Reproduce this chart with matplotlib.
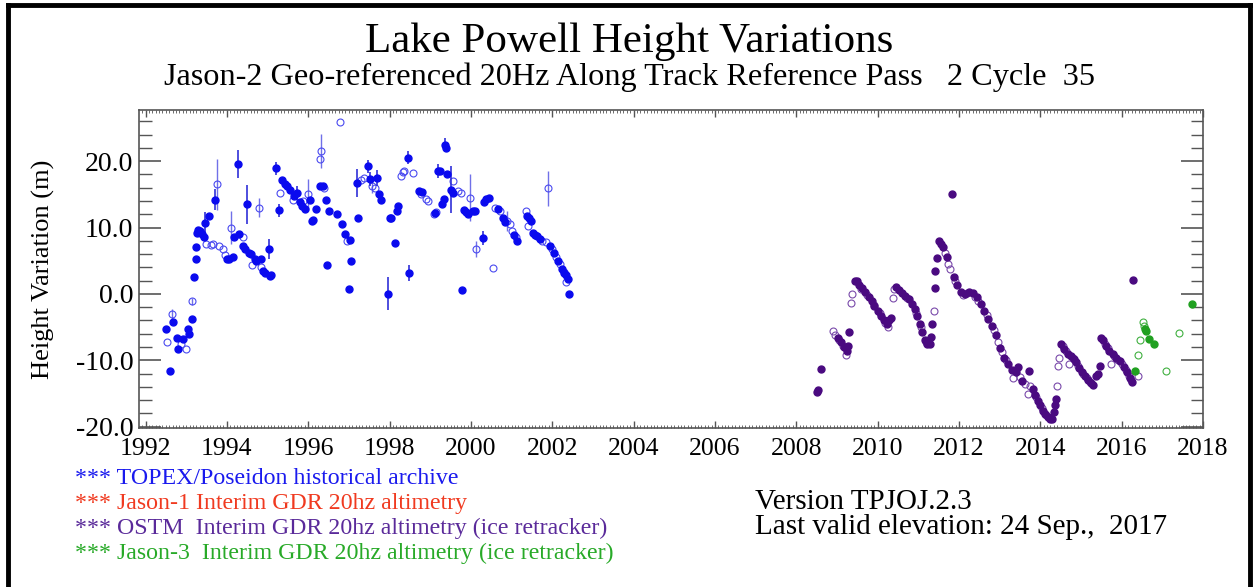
import numpy as np
import matplotlib.pyplot as plt
from matplotlib.ticker import MultipleLocator, FormatStrFormatter
from matplotlib.lines import Line2D

plt.rcParams['font.family'] = ['Liberation Serif', 'DejaVu Serif']

# TOPEX/Poseidon, filled points (year, height, error)
tp_year = [1992.51, 1992.60, 1992.68, 1992.78, 1992.81, 1992.93, 1993.05, 1993.08, 1993.14, 1993.19,
           1993.23, 1993.24, 1993.26, 1993.30, 1993.35, 1993.40, 1993.44, 1993.47, 1993.55, 1993.70,
           1994.00, 1994.05, 1994.16, 1994.18, 1994.27, 1994.31, 1994.40, 1994.45, 1994.50, 1994.55,
           1994.60, 1994.68, 1994.72, 1994.85, 1994.90, 1994.95, 1995.03, 1995.05, 1995.08, 1995.21,
           1995.27, 1995.36, 1995.42, 1995.47, 1995.56, 1995.66, 1995.73, 1995.80, 1995.85, 1995.92,
           1996.05, 1996.10, 1996.13, 1996.20, 1996.30, 1996.36, 1996.43, 1996.46, 1996.52, 1996.72,
           1996.84, 1996.90, 1997.00, 1997.02, 1997.06, 1997.19, 1997.23, 1997.47, 1997.52, 1997.68,
           1997.75, 1997.80, 1997.96, 1998.00, 1998.03, 1998.13, 1998.18, 1998.22, 1998.46, 1998.48,
           1998.72, 1998.80, 1999.12, 1999.20, 1999.24, 1999.28, 1999.33, 1999.36, 1999.40, 1999.42,
           1999.50, 1999.56, 1999.78, 1999.84, 1999.88, 1999.92, 2000.05, 2000.10, 2000.30, 2000.33,
           2000.38, 2000.45, 2000.66, 2000.80, 2000.85, 2001.05, 2001.14, 2001.38, 2001.42, 2001.47,
           2001.53, 2001.58, 2001.63, 2001.70, 2001.95, 2002.05, 2002.15, 2002.25, 2002.30, 2002.35,
           2002.38, 2002.41]
tp_h = [-5.3, -11.6, -4.3, -6.6, -8.3, -6.8, -5.3, -6.1, -3.8, 2.6,
        5.2, 7.1, 9.2, 9.6, 9.4, 9.0, 8.5, 10.7, 11.8, 14.2,
        5.3, 5.2, 5.5, 8.5, 19.5, 9.0, 7.2, 6.8, 13.5, 6.2,
        6.0, 5.2, 5.0, 5.2, 3.5, 3.2, 6.7, 2.7, 2.8, 18.9,
        12.6, 17.2, 16.5, 16.3, 15.7, 14.8, 15.2, 13.8, 13.2, 12.8,
        14.2, 11.0, 11.2, 12.8, 16.2, 16.2, 14.2, 4.4, 12.5, 12.0,
        10.5, 9.0, 0.7, 8.1, 4.9, 16.7, 11.5, 19.2, 17.3, 17.5,
        15.0, 14.2, 0.0, 11.5, 11.5, 7.6, 12.5, 13.2, 20.5, 3.1,
        15.5, 15.3, 12.2, 18.5, 18.5, 13.5, 14.3, 22.5, 22.0, 18.0,
        15.7, 15.2, 0.6, 12.7, 12.3, 12.0, 12.5, 12.5, 8.4, 13.8,
        14.3, 14.5, 12.8, 11.5, 10.8, 8.8, 8.0, 11.7, 11.4, 11.0,
        9.2, 8.9, 8.7, 8.3, 7.2, 6.2, 5.0, 3.8, 3.2, 2.8,
        2.2, 0.05]
tp_err = [0, 0, 0, 0, 0, 0, 0, 0, 0, 0,
          0, 0, 0, 0, 0, 0, 0, 1.7, 0, 1.6,
          0, 0, 0, 0, 2.1, 0, 0, 0, 2.9, 0,
          0, 0, 0, 0, 0, 0, 1.5, 0, 0, 1.0,
          1.0, 0, 0, 0, 0, 0, 1.0, 0, 0, 0,
          0, 0, 0, 0, 0, 0, 0, 0, 0, 0,
          0, 0, 0, 0, 0, 2.1, 0, 1.0, 1.0, 1.2,
          0, 0, 2.5, 0, 0, 0, 0, 0, 1.0, 1.2,
          0, 0, 0, 1.0, 0, 0, 0, 1.0, 0, 0,
          3.5, 0, 0, 0, 0, 0, 0, 0, 1.0, 0,
          0, 0, 0, 0, 0, 0, 0, 0, 0, 0,
          0, 0, 0, 0, 0, 0, 0, 0, 0, 0,
          0, 0]

# TOPEX/Poseidon, open points
tpo_year = [1992.53, 1992.65, 1992.88, 1993.00, 1993.15, 1993.48, 1993.60, 1993.66, 1993.77, 1993.80,
            1993.90, 1993.96, 1994.10, 1994.40, 1994.63, 1994.78, 1994.83, 1995.31, 1995.62, 1995.86,
            1996.00, 1996.28, 1996.31, 1996.38, 1996.79, 1996.96, 1997.30, 1997.36, 1997.58, 1997.64,
            1998.27, 1998.32, 1998.35, 1998.57, 1998.78, 1998.90, 1998.95, 1999.10, 1999.14, 1999.55,
            1999.68, 1999.75, 1999.98, 2000.12, 2000.54, 2000.60, 2000.72, 2000.88, 2000.95, 2001.00,
            2001.10, 2001.35, 2001.40, 2001.75, 2001.85, 2001.90, 2002.00, 2002.10, 2002.20, 2002.28,
            2002.33]
tpo_h = [-7.2, -3.0, -7.5, -8.3, -1.1, 7.5, 7.3, 7.5, 16.5, 7.2,
         6.7, 5.8, 10.0, 8.5, 4.4, 13.0, 4.1, 15.2, 14.2, 14.0,
         15.0, 20.3, 21.5, 16.0, 25.9, 8.0, 17.2, 17.4, 16.2, 16.0,
         17.7, 18.3, 18.5, 18.2, 15.0, 14.3, 14.0, 12.0, 12.3, 17.0,
         15.5, 15.2, 14.5, 6.7, 3.9, 13.0, 12.5, 11.0, 10.5, 9.5,
         8.6, 12.5, 10.3, 8.0, 7.8, 15.9, 6.8, 5.6, 4.5, 3.3,
         1.8]
tpo_err = [0, 0.8, 0, 0, 0.5, 0, 0, 0, 3.8, 0,
           0, 0, 2.5, 0, 0, 1.4, 0, 0, 0, 0,
           2.3, 0, 2.6, 0, 0, 0, 0, 0, 1.0, 0,
           0, 0, 0, 0, 0, 0, 0, 0, 0, 0,
           0, 0, 3.5, 1.2, 0, 0, 0, 1.5, 0, 0,
           0, 0, 0, 0, 0, 2.6, 0, 0, 0, 0,
           0]

# OSTM, filled points
os_year = [2008.50, 2008.53, 2008.61, 2009.02, 2009.10, 2009.18, 2009.24, 2009.28, 2009.30, 2009.45,
           2009.50, 2009.55, 2009.62, 2009.70, 2009.78, 2009.85, 2009.92, 2010.00, 2010.08, 2010.15,
           2010.22, 2010.28, 2010.32, 2010.45, 2010.52, 2010.60, 2010.68, 2010.78, 2010.85, 2010.92,
           2010.97, 2011.03, 2011.10, 2011.17, 2011.22, 2011.28, 2011.31, 2011.34, 2011.40, 2011.42,
           2011.45, 2011.50, 2011.55, 2011.60, 2011.70, 2011.82, 2011.88, 2011.95, 2012.05, 2012.15,
           2012.25, 2012.35, 2012.45, 2012.53, 2012.62, 2012.72, 2012.80, 2012.90, 2013.00, 2013.10,
           2013.20, 2013.30, 2013.40, 2013.46, 2013.56, 2013.73, 2013.81, 2013.88, 2013.94, 2014.00,
           2014.06, 2014.12, 2014.18, 2014.24, 2014.28, 2014.34, 2014.36, 2014.38, 2014.50, 2014.58,
           2014.67, 2014.75, 2014.83, 2014.88, 2014.95, 2015.02, 2015.09, 2015.18, 2015.25, 2015.29,
           2015.38, 2015.42, 2015.46, 2015.50, 2015.55, 2015.62, 2015.70, 2015.78, 2015.85, 2015.95,
           2016.05, 2016.12, 2016.20, 2016.26, 2016.29]
os_h = [-14.8, -14.5, -11.3, -6.6, -7.3, -8.0, -8.6, -7.8, -5.8, 2.0,
        1.9, 1.4, 0.9, 0.3, -0.4, -1.1, -1.8, -2.6, -3.3, -4.0,
        -4.5, -3.9, -3.6, 1.0, 0.6, 0.2, -0.3, -0.8, -1.5, -2.3,
        -3.3, -4.5, -5.8, -7.0, -7.6, -7.5, -6.5, -4.5, 0.85, 3.5,
        5.4, 8.0, 7.5, 7.0, 5.5, 15.0, 2.5, 1.3, 0.3, 0.0,
        0.3, 0.2, -0.4, -1.5, -2.6, -3.8, -4.9, -6.2, -8.1, -9.6,
        -10.6, -11.5, -11.8, -11.0, -13.1, -11.6, -14.3, -15.2, -16.1, -16.8,
        -17.6, -18.1, -18.6, -18.9, -18.8, -17.8, -16.8, -15.8, -7.6, -8.3,
        -9.1, -9.4, -9.8, -10.3, -11.1, -11.8, -12.3, -13.0, -13.4, -13.7,
        -12.4, -12.0, -10.8, -6.6, -7.0, -7.9, -8.6, -9.0, -9.6, -10.1,
        -11.0, -11.7, -12.6, -13.3, 2.1]

# OSTM, open points
oso_year = [2008.90, 2008.96, 2009.05, 2009.14, 2009.22, 2009.35, 2009.37, 2009.58, 2009.75, 2009.90,
            2010.05, 2010.18, 2010.25, 2010.38, 2010.40, 2010.72, 2010.95, 2011.07, 2011.20, 2011.38,
            2011.65, 2011.72, 2011.78, 2011.90, 2012.10, 2012.20, 2012.40, 2012.48, 2012.68, 2012.85,
            2012.95, 2013.05, 2013.15, 2013.32, 2013.50, 2013.62, 2013.69, 2013.75, 2013.90, 2014.03,
            2014.15, 2014.40, 2014.43, 2014.47, 2014.55, 2014.62, 2014.70, 2014.80, 2014.92, 2015.05,
            2015.15, 2015.22, 2015.58, 2015.66, 2015.74, 2015.82, 2015.90, 2016.00, 2016.10, 2016.18,
            2016.24, 2016.40]
oso_h = [-5.6, -6.2, -6.9, -7.8, -9.2, -1.3, 0.0, 0.8, -0.1, -1.6,
         -2.9, -4.4, -5.0, -0.6, 0.8, -0.6, -2.9, -5.0, -7.2, -2.6,
         6.2, 4.5, 3.8, 2.0, -0.2, 0.1, -0.5, -1.0, -3.2, -5.5,
         -7.2, -8.7, -10.0, -12.6, -12.5, -13.6, -15.1, -13.9, -15.6, -17.2,
         -18.3, -13.8, -10.8, -9.6, -7.8, -8.6, -10.6, -9.7, -10.8, -12.0,
         -12.7, -13.2, -7.5, -8.2, -10.6, -9.3, -9.9, -10.6, -11.4, -12.3,
         -13.0, -12.3]

# Jason-3
j3_year = [2016.32, 2016.57, 2016.60, 2016.68, 2016.79, 2017.72]
j3_h = [-11.6, -5.3, -5.6, -6.8, -7.5, -1.5]
j3o_year = [2016.40, 2016.44, 2016.53, 2016.55, 2017.09, 2017.41]
j3o_h = [-9.2, -7.0, -4.3, -4.8, -11.6, -5.9]

legend_lines = ["*** TOPEX/Poseidon historical archive",
                "*** Jason-1 Interim GDR 20hz altimetry",
                "*** OSTM  Interim GDR 20hz altimetry (ice retracker)",
                "*** Jason-3  Interim GDR 20hz altimetry (ice retracker)"]
legend_colors = ['#1a1aee', '#f03a20', '#5a2a9a', '#28aa28']

W, H = 1258, 587
fig = plt.figure(figsize=(W / 100, H / 100), dpi=100)
ax = fig.add_axes([139 / W, 1 - 428 / H, (1203 - 139) / W, (428 - 110) / H])

blue = '#0a0aee'
purple = '#4a0a80'
green = '#20a020'

ax.errorbar(tp_year, tp_h, yerr=tp_err, fmt='o', ms=5, color=blue, mfc=blue, mec=blue,
            ecolor='#3030d8', elinewidth=1.2, capsize=0, zorder=3)
ax.errorbar(tpo_year, tpo_h, yerr=tpo_err, fmt='o', ms=5, color=blue, mfc='none', mec='#4a4af0',
            mew=0.8, ecolor='#7070e8', elinewidth=1.0, capsize=0, zorder=2)
ax.plot(os_year, os_h, 'o', ms=5, color=purple, mec=purple, zorder=3)
ax.plot(oso_year, oso_h, 'o', ms=5, mfc='none', mec='#7a4aaa', mew=0.8, zorder=2)
ax.plot(j3_year, j3_h, 'o', ms=5, color=green, mec=green, zorder=3)
ax.plot(j3o_year, j3o_h, 'o', ms=5, mfc='none', mec='#40b040', mew=0.8, zorder=2)

ax.set_xlim(1991.84, 2018.0)
ax.set_ylim(-20.2, 27.7)
ax.xaxis.set_major_locator(MultipleLocator(2))
ax.xaxis.set_minor_locator(MultipleLocator(1 / 12))
ax.yaxis.set_major_locator(MultipleLocator(10))
ax.yaxis.set_minor_locator(MultipleLocator(2))
ax.yaxis.set_major_formatter(FormatStrFormatter('%.1f'))
ax.xaxis.set_major_formatter(FormatStrFormatter('%d'))

for s in ax.spines.values():
    s.set_color('#555555')
    s.set_linewidth(1.2)
ax.tick_params(axis='both', which='both', direction='in', colors='#555555',
               labelcolor='black', top=True, right=True)
ax.tick_params(axis='y', which='major', length=16, width=1.2, pad=4, labelsize=20)
ax.tick_params(axis='y', which='minor', length=9, width=1.0)
ax.tick_params(axis='x', which='major', length=5, width=1.0, pad=7, labelsize=18.5)
ax.tick_params(axis='x', which='minor', length=2.5, width=0.6)
ax.set_ylabel('Height Variation (m)', fontsize=19)
ax.yaxis.set_label_coords(-0.079, 0.5)

fig.text(629 / W, 1 - 42 / H, 'Lake Powell Height Variations', ha='center', va='center', fontsize=31)
fig.text(629 / W, 1 - 77 / H,
         'Jason-2 Geo-referenced 20Hz Along Track Reference Pass   2 Cycle  35',
         ha='center', va='center', fontsize=23.2)

for i, (t, c) in enumerate(zip(legend_lines, legend_colors)):
    fig.text(75 / W, 1 - (478 + 25 * i) / H, t, color=c, ha='left', va='center', fontsize=17.2)

fig.text(755 / W, 1 - 502 / H, 'Version TPJOJ.2.3', ha='left', va='center', fontsize=21)
fig.text(755 / W, 1 - 527 / H, 'Last valid elevation: 24 Sep.,  2017', ha='left', va='center', fontsize=21)

# black frame round the picture
frame = dict(color='black', lw=3.5, transform=fig.transFigure, clip_on=False)
fig.add_artist(Line2D([8 / W, 8 / W], [0, 1 - 5 / H], **frame))
fig.add_artist(Line2D([8 / W, 1250 / W], [1 - 5 / H, 1 - 5 / H], **frame))
fig.add_artist(Line2D([1250 / W, 1250 / W], [0, 1 - 5 / H], **frame))

fig.savefig('out.png', dpi=100)
